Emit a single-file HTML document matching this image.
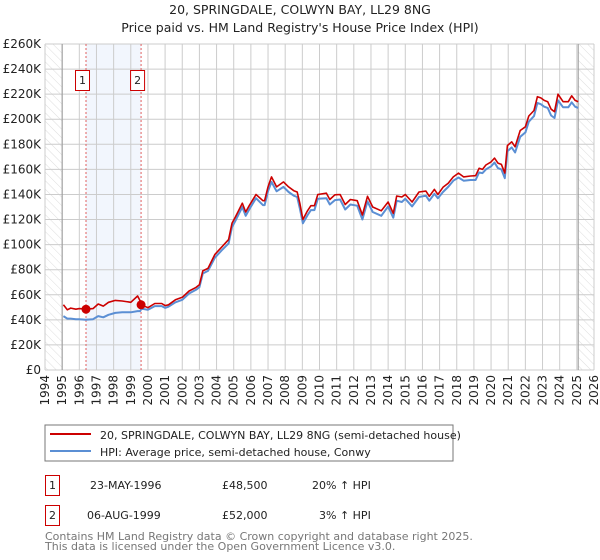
<!DOCTYPE html>
<html><head><meta charset="utf-8">
<style>
body{margin:0;background:#fff;font-family:"DejaVu Sans","Liberation Sans",sans-serif;}
#wrap{position:relative;width:600px;height:560px;overflow:hidden;}
svg text{font-family:"DejaVu Sans","Liberation Sans",sans-serif;}
</style></head>
<body>
<div id="wrap">
<svg id="chart" width="600" height="560" viewBox="0 0 600 560">
<defs>
<pattern id="hatch" width="6" height="6" patternUnits="userSpaceOnUse" patternTransform="rotate(-45)">
<line x1="0" y1="0" x2="0" y2="6" stroke="#ddd" stroke-width="1"/>
</pattern>
</defs>
<text x="300" y="14" text-anchor="middle" font-size="12.5" fill="#222">20, SPRINGDALE, COLWYN BAY, LL29 8NG</text>
<text x="300" y="32" text-anchor="middle" font-size="12.5" fill="#222">Price paid vs. HM Land Registry's House Price Index (HPI)</text>
<g id="grid"></g>
<g id="series"></g>
<g id="axes"></g>
<rect x="45" y="425" width="408" height="36" fill="#fff" stroke="#777"/>
<line x1="50" y1="434" x2="91" y2="434" stroke="#cc0000" stroke-width="2"/>
<text x="100" y="439" font-size="11" fill="#222">20, SPRINGDALE, COLWYN BAY, LL29 8NG (semi-detached house)</text>
<line x1="50" y1="451" x2="91" y2="451" stroke="#5b8fd4" stroke-width="2"/>
<text x="100" y="456" font-size="11" fill="#222">HPI: Average price, semi-detached house, Conwy</text>
<g>
<rect x="45.5" y="475.5" width="14" height="20" fill="#fff" stroke="#cc0000"/>
<text x="52.5" y="489" text-anchor="middle" font-size="11" fill="#222">1</text>
<text x="90" y="489" font-size="11" fill="#222">23-MAY-1996</text>
<text x="222" y="489" font-size="11" fill="#222">£48,500</text>
<text x="312" y="489" font-size="11" fill="#222">20% ↑ HPI</text>
</g>
<g>
<rect x="45.5" y="505.5" width="14" height="20" fill="#fff" stroke="#cc0000"/>
<text x="52.5" y="519" text-anchor="middle" font-size="11" fill="#222">2</text>
<text x="87" y="519" font-size="11" fill="#222">06-AUG-1999</text>
<text x="222" y="519" font-size="11" fill="#222">£52,000</text>
<text x="319" y="519" font-size="11" fill="#222">3% ↑ HPI</text>
</g>
<text x="45" y="540" font-size="11" fill="#777">Contains HM Land Registry data © Crown copyright and database right 2025.</text>
<text x="45" y="550" font-size="11" fill="#777">This data is licensed under the Open Government Licence v3.0.</text>
</svg>
</div>
<script>
const years = [1995.07,1995.3,1995.5,1995.8,1996.0,1996.37,1996.8,1997.1,1997.4,1997.7,1998.1,1998.5,1999.0,1999.4,1999.55,1999.62,2000.0,2000.4,2000.8,2001.0,2001.2,2001.6,2002.0,2002.4,2002.8,2003.0,2003.2,2003.5,2003.9,2004.3,2004.7,2004.9,2005.1,2005.5,2005.7,2005.9,2006.3,2006.7,2006.8,2007.0,2007.2,2007.5,2007.9,2008.2,2008.5,2008.7,2008.85,2009.03,2009.3,2009.5,2009.7,2009.9,2010.4,2010.6,2010.9,2011.2,2011.5,2011.8,2012.2,2012.5,2012.8,2013.1,2013.6,2014.0,2014.3,2014.5,2014.8,2015.0,2015.4,2015.8,2016.2,2016.4,2016.7,2016.9,2017.2,2017.5,2017.8,2018.1,2018.4,2018.8,2019.1,2019.3,2019.5,2019.7,2020.0,2020.2,2020.4,2020.6,2020.8,2020.95,2021.2,2021.4,2021.7,2022.0,2022.2,2022.5,2022.7,2022.9,2023.1,2023.3,2023.5,2023.7,2023.9,2024.2,2024.5,2024.7,2024.9,2025.08];
const priceValues = [52,48,49.4,48.5,49,48.5,49,52.6,51,54,55.5,55,54,59,55,52,49.7,53,53,51.4,52,56,58,63,65.9,68,79,81,92,98,104,117,122,133,126,131,140,135,135,146,154,146,150,146,143,142,133,120,127,131,131,140,141,136,139.7,140,132,136,135,123.6,138.5,130,127,134,125,138.8,138,140,134,142,142.7,138.5,144,140,145.7,149,154,157,154,154.7,155,160.9,160,163.5,166,169,165,164,157,179,182,178,191,194,202.6,207,218,217,215,214,208,206,220,214,214,218.7,215,214];
const hpiYears = years;
const hpiValues = [43,41,41,40.5,40.5,40,40.5,43,42,44,45.5,46,46,47,47,49,48,51,51,49.5,50.5,54,56,61,64,66,77,79,89.5,95.5,101,114,119,130,123,128,137,131.5,131.5,142.5,150,142.5,146,142,139,138,129,117,123.5,127.5,127.5,136.5,137,132,135.5,136,128,132,131,120,134.5,126,123,130.5,121.5,135,134,136.5,130.5,138,139,135,140.5,137,142,146,151,153.5,151,151.5,151.5,157.5,157,160,162.5,165.5,161,160,153,174.5,177.5,173.5,186,189.5,198,202.5,213,212,210,209,203,201,215,209.5,209.5,213.5,210,209];
const saleYears = [1996.39,1999.6];
const salePrices = [48.5,52];
const yTicks = [0,20,40,60,80,100,120,140,160,180,200,220,240,260];
const xTicks = [1994,1995,1996,1997,1998,1999,2000,2001,2002,2003,2004,2005,2006,2007,2008,2009,2010,2011,2012,2013,2014,2015,2016,2017,2018,2019,2020,2021,2022,2023,2024,2025,2026];

const L=45,R=594,T=44,B=370,X0=1994,X1=2026,YMAX=260;
const xs = y => L+(y-X0)/(X1-X0)*(R-L);
const ys = v => B-v/YMAX*(B-T);
const NS="http://www.w3.org/2000/svg";
function mk(tag,attrs,parent){const e=document.createElementNS(NS,tag);for(const k in attrs)e.setAttribute(k,attrs[k]);parent.appendChild(e);return e;}
const grid=document.getElementById('grid'),axes=document.getElementById('axes'),series=document.getElementById('series');

let h1=mk('rect',{x:L,y:T,width:xs(1995)-L,height:B-T,fill:'url(#hatch)'},grid);


let h2=mk('rect',{x:xs(2025.08),y:T,width:R-xs(2025.08),height:B-T,fill:'url(#hatch)'},grid);


let band=mk('rect',{x:xs(saleYears[0]),y:T,width:xs(saleYears[1])-xs(saleYears[0]),height:B-T,fill:'#f2f6fd'},grid);



yTicks.forEach(v=>{
  mk('line',{x1:L,x2:R,y1:ys(v),y2:ys(v),stroke:'#ccc','stroke-width':1},grid);
  const t=mk('text',{x:L-4,y:ys(v)+4,'text-anchor':'end','font-size':12,fill:'#222'},axes);
  t.textContent=v===0?'£0':'£'+v+'K';
  
  
});
xTicks.forEach(y=>{
  mk('line',{x1:xs(y),x2:xs(y),y1:T,y2:B,stroke:'#ccc','stroke-width':1},grid);
  const t=mk('text',{x:0,y:0,'text-anchor':'end','font-size':12,fill:'#222',transform:`translate(${xs(y)+4},${B+5}) rotate(-90)`},axes);
  t.textContent=y;
  
  
});
mk('line',{x1:xs(1995),x2:xs(1995),y1:T,y2:B,stroke:'#999','stroke-width':1},grid);
mk('line',{x1:xs(2025.08),x2:xs(2025.08),y1:T,y2:B,stroke:'#999','stroke-width':1},grid);

saleYears.forEach((y,i)=>{
  const ln=mk('line',{x1:xs(y),x2:xs(y),y1:T,y2:B,stroke:'#e06060','stroke-width':1,'stroke-dasharray':'2,2'},grid);
  
  
  const g=mk('g',{},axes);
  
  
  mk('rect',{x:xs(y)-10.5,y:70.5,width:14,height:20,fill:'#fff',stroke:'#cc0000'},g);
  const t=mk('text',{x:xs(y)-3.5,y:84,'text-anchor':'middle','font-size':11,fill:'#222'},g);
  t.textContent=String(i+1);
});

function path(xa,va){return xa.map((y,i)=>(i?'L':'M')+xs(y).toFixed(1)+','+ys(va[i]).toFixed(1)).join('');}
const hp=mk('path',{d:path(hpiYears,hpiValues),fill:'none',stroke:'#5b8fd4','stroke-width':2,'stroke-linejoin':'round'},series);


const pp=mk('path',{d:path(years,priceValues),fill:'none',stroke:'#cc0000','stroke-width':1.6,'stroke-linejoin':'round'},series);


saleYears.forEach((y,i)=>{
  const c=mk('circle',{cx:xs(y),cy:ys(salePrices[i]),r:4.5,fill:'#cc0000'},series);
  
  
});
</script>
</body></html>
